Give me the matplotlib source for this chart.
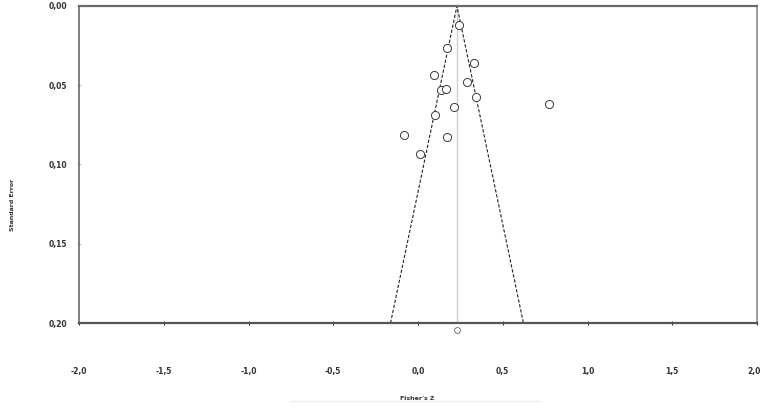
import matplotlib.pyplot as plt
import matplotlib.transforms as mtransforms
from matplotlib.lines import Line2D

# study effects (Fisher's Z) and standard errors
fisher_z = [0.240, 0.171, 0.330, 0.097, 0.291, 0.134, 0.165, 0.344, 0.775,
            0.212, 0.100, -0.080, 0.171, 0.010]
std_err = [0.0122, 0.0263, 0.0358, 0.0437, 0.0481, 0.0532, 0.0524, 0.0576,
           0.0620, 0.0637, 0.0688, 0.0816, 0.0827, 0.0934]
summary_z = 0.23
se_max = 0.20

x_ticks = [-2.0, -1.5, -1.0, -0.5, 0.0, 0.5, 1.0, 1.5, 2.0]
y_ticks = [0.00, 0.05, 0.10, 0.15, 0.20]


def comma(v, nd):
    return f"{v:.{nd}f}".replace('.', ',')


fig = plt.figure(figsize=(7.62, 4.13), dpi=100)
ax = fig.add_axes([79 / 762, 90 / 413, 678 / 762, 317 / 413])

# summary line and 95% funnel
ax.plot([summary_z, summary_z], [0, se_max], color='#cfcfcf', lw=1.0, zorder=1)
ax.plot([summary_z - 1.96 * se_max, summary_z, summary_z + 1.96 * se_max],
        [se_max, 0, se_max], color='#222222', lw=0.8, ls=(0, (3, 1.6)), zorder=2)

ax.scatter(fisher_z, std_err, s=34, facecolors='white', edgecolors='#3a3a3a',
           linewidths=0.7, zorder=3)
# summary marker under the axis
ax.scatter([summary_z], [se_max + 0.0045], s=18, facecolors='white',
           edgecolors='#777777', linewidths=0.7, zorder=3, clip_on=False)

ax.set_xlim(-2.0, 2.0)
ax.set_ylim(se_max, 0)
ax.set_xticks(x_ticks)
ax.set_xticklabels([comma(v, 1) for v in x_ticks])
ax.set_yticks(y_ticks)
ax.set_yticklabels([comma(v, 2) for v in y_ticks])

for lab in ax.get_xticklabels() + ax.get_yticklabels():
    lab.set_fontsize(5.5)
    lab.set_fontweight('bold')
    lab.set_color('#333333')
ax.tick_params(axis='x', direction='inout', length=3, width=0.8,
               color='#333333', pad=30)
ax.tick_params(axis='y', direction='inout', length=3, width=0.8,
               color='#bbbbbb', pad=7)

# keep the last x label inside the picture
last = ax.get_xticklabels()[-1]
last.set_transform(last.get_transform() +
                   mtransforms.ScaledTranslation(-3 / 100, 0, fig.dpi_scale_trans))

ax.spines['top'].set_color('#6a6a6a')
ax.spines['top'].set_linewidth(1.6)
ax.spines['bottom'].set_color('#555555')
ax.spines['bottom'].set_linewidth(1.6)
ax.spines['left'].set_color('#6a6a6a')
ax.spines['left'].set_linewidth(1.2)
ax.spines['right'].set_color('#8a8a8a')
ax.spines['right'].set_linewidth(1.2)

fig.text(13 / 762, 1 - 205 / 413, 'Standard Error', rotation=90, fontsize=4.5,
         fontweight='bold', color='#333333', ha='center', va='center')
fig.text(417 / 762, 1 - 398 / 413, "Fisher's Z", fontsize=4.5,
         fontweight='bold', color='#333333', ha='center', va='center')
fig.add_artist(Line2D([290 / 762, 540 / 762], [1 - 401 / 413, 1 - 401 / 413],
                      color='#ececec', lw=0.8))

fig.savefig('out.png', dpi=100)
